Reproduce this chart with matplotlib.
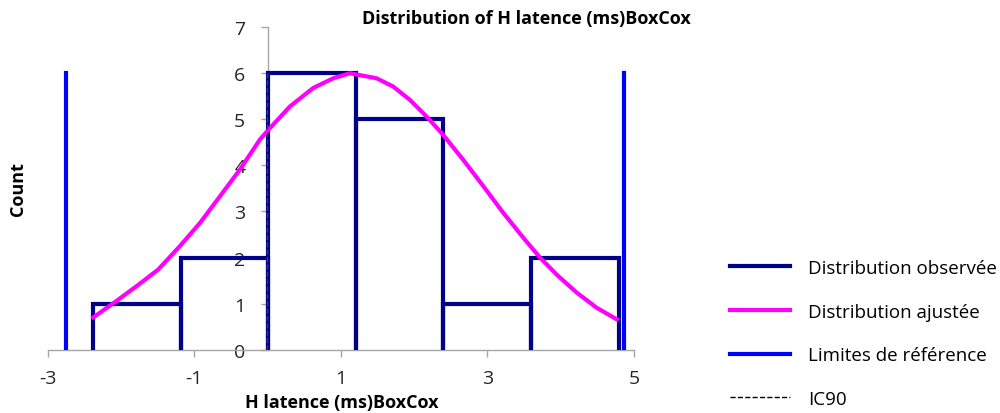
import matplotlib
matplotlib.use('Agg')
import matplotlib.pyplot as plt
from matplotlib.lines import Line2D

plt.rcParams['font.family'] = ['Open Sans', 'DejaVu Sans']
plt.rcParams['axes.unicode_minus'] = False

# bins of the observed distribution
bin_edges = [-2.38, -1.185, 0.01, 1.205, 2.40, 3.595, 4.79]
counts = [1, 2, 6, 5, 1, 2]

# fitted curve
fit_x = [-2.378, -2.059, -1.786, -1.491, -1.195, -0.922, -0.649, -0.377, -0.104, 0.010,
         0.306, 0.623, 0.896, 1.124, 1.488, 1.715, 1.943, 2.170, 2.397, 2.670,
         2.943, 3.216, 3.489, 3.717, 3.944, 4.217, 4.490, 4.763]
fit_y = [0.70, 1.06, 1.38, 1.74, 2.25, 2.75, 3.33, 3.91, 4.56, 4.77,
         5.28, 5.68, 5.89, 6.00, 5.89, 5.71, 5.42, 5.06, 4.66, 4.12,
         3.55, 2.97, 2.43, 2.00, 1.63, 1.24, 0.91, 0.66]

ref_limits = [-2.755, 4.86]
ref_height = 6
ic90 = [-0.01]

xticks = [-3, -1, 1, 3, 5]
yticks = [0, 1, 2, 3, 4, 5, 6, 7]

navy = '#00008b'
magenta = '#ff00ff'
blue = '#0000ff'
grey = '#a6a6a6'
txt = '#262626'

fig = plt.figure(figsize=(10, 4.14), dpi=100)
ax = fig.add_axes([0.0477, 0.153, 0.5863, 0.779])

for i in range(len(counts)):
    l, r, h = bin_edges[i], bin_edges[i + 1], counts[i]
    ax.plot([l, l, r, r], [0, h, h, 0], color=navy, lw=3, solid_joinstyle='miter', zorder=3)

ax.plot(fit_x, fit_y, color=magenta, lw=3, zorder=4)

for x in ref_limits:
    ax.plot([x, x], [0, ref_height], color=blue, lw=3, zorder=3)

for x in ic90:
    ax.plot([x, x], [0, ref_height], color='#404040', lw=1, ls='--', zorder=5)

ax.set_xlim(-3, 5)
ax.set_ylim(0, 7)
ax.set_xticks(xticks)
ax.set_yticks(yticks)

ax.spines['left'].set_position(('data', 0))
ax.spines['top'].set_visible(False)
ax.spines['right'].set_visible(False)
for s in ['left', 'bottom']:
    ax.spines[s].set_color(grey)
    ax.spines[s].set_linewidth(1)
ax.tick_params(axis='both', colors=grey, labelcolor=txt, labelsize=14, length=5, width=1)
ax.tick_params(axis='x', pad=9)
ax.tick_params(axis='y', pad=11)

fig.text(0.526, 0.955, 'Distribution of H latence (ms)BoxCox', ha='center', va='center',
         fontsize=13, fontweight='bold', color='black')
fig.text(0.3415, 0.027, 'H latence (ms)BoxCox', ha='center', va='center',
         fontsize=13, fontweight='bold', color='black')
fig.text(0.018, 0.543, 'Count', ha='center', va='center', rotation=90,
         fontsize=13, fontweight='bold', color='black')

handles = [
    Line2D([], [], color=navy, lw=3),
    Line2D([], [], color=magenta, lw=3),
    Line2D([], [], color=blue, lw=3),
    Line2D([], [], color='black', lw=1, ls='--'),
]
labels = ['Distribution observée', 'Distribution ajustée', 'Limites de référence', 'IC90']
fig.legend(handles, labels, loc='upper left', bbox_to_anchor=(0.730, 0.372),
           frameon=False, fontsize=13.5, handlelength=3.2, handletextpad=0.96,
           labelspacing=1.37, borderaxespad=0, borderpad=0)

fig.savefig('out.png', dpi=100)
